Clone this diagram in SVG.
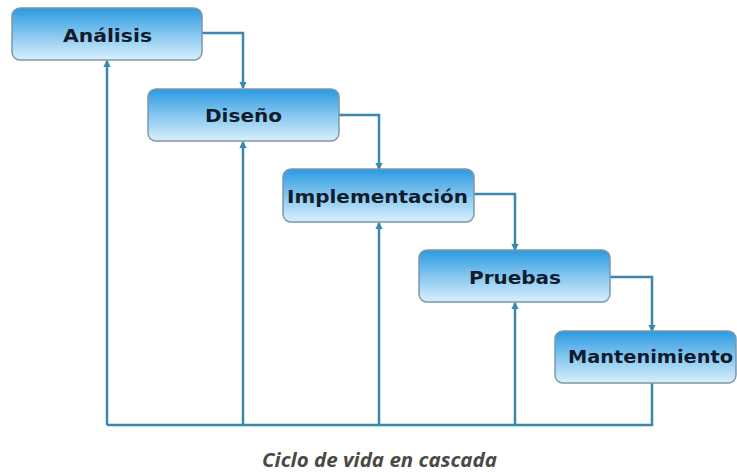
<svg xmlns="http://www.w3.org/2000/svg" width="737" height="473" viewBox="0 0 737 473">
<defs>
<linearGradient id="g" x1="0" y1="0" x2="0" y2="1">
<stop offset="0" stop-color="#2a9ae0"/>
<stop offset="0.45" stop-color="#7cc2ee"/>
<stop offset="1" stop-color="#d9f0fc"/>
</linearGradient>
<marker id="a" viewBox="0 0 6 6" refX="5" refY="3" markerWidth="3" markerHeight="3" orient="auto">
<path d="M0,0 L6,3 L0,6 z" fill="#3b87ad"/>
</marker>
<style>
.box{fill:url(#g);stroke:#7d98a8;stroke-width:1.5}
.lbl{font-family:"DejaVu Sans",Verdana,sans-serif;font-weight:bold;font-size:18px;fill:#101c2c;text-anchor:middle}
.c{fill:none;stroke:#3b87ad;stroke-width:2.5}
.cap{font-family:"Open Sans","Liberation Sans",sans-serif;font-weight:bold;font-style:italic;font-size:20px;fill:#4a4a44;text-anchor:middle}
</style>
</defs>
<rect width="737" height="473" fill="#ffffff"/>
<g id="connectors">
<path class="c" d="M202,33 H243 V88" marker-end="url(#a)"/>
<path class="c" d="M339,115 H379 V169" marker-end="url(#a)"/>
<path class="c" d="M474,194 H515 V250" marker-end="url(#a)"/>
<path class="c" d="M610,277 H652 V331" marker-end="url(#a)"/>
<path class="c" d="M652,383 V425 H107"/>
<path class="c" d="M107,425 V61" marker-end="url(#a)"/>
<path class="c" d="M243,425 V142" marker-end="url(#a)"/>
<path class="c" d="M379,425 V223" marker-end="url(#a)"/>
<path class="c" d="M515,425 V303" marker-end="url(#a)"/>
</g>
<g id="analisis">
<rect class="box" x="12" y="8" width="190" height="52" rx="8"/>
<text class="lbl" x="107.5" y="42" textLength="89" lengthAdjust="spacingAndGlyphs">Análisis</text>
</g>
<g id="diseno">
<rect class="box" x="148" y="89" width="191" height="52" rx="8"/>
<text class="lbl" x="243.5" y="122" textLength="77" lengthAdjust="spacingAndGlyphs">Diseño</text>
</g>
<g id="implementacion">
<rect class="box" x="283" y="169" width="191" height="53" rx="8"/>
<text class="lbl" x="377.5" y="203" textLength="181" lengthAdjust="spacingAndGlyphs">Implementación</text>
</g>
<g id="pruebas">
<rect class="box" x="419" y="250" width="191" height="52" rx="8"/>
<text class="lbl" x="515" y="284" textLength="92" lengthAdjust="spacingAndGlyphs">Pruebas</text>
</g>
<g id="mantenimiento">
<rect class="box" x="555" y="331" width="181" height="52" rx="8"/>
<text class="lbl" x="650.5" y="363" textLength="165" lengthAdjust="spacingAndGlyphs">Mantenimiento</text>
</g>
<text class="cap" x="379.5" y="467" textLength="235" lengthAdjust="spacingAndGlyphs">Ciclo de vida en cascada</text>
</svg>
